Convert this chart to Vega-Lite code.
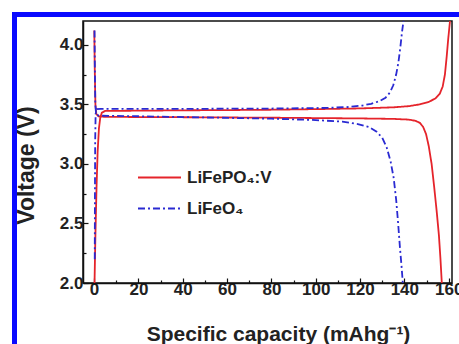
{
  "$schema": "https://vega.github.io/schema/vega-lite/v6.json",
  "width": 369,
  "height": 262,
  "autosize": {"type": "none"},
  "padding": {"left": 83, "top": 21, "right": 7, "bottom": 61},
  "background": "white",
  "config": {
    "view": {"stroke": "#111", "strokeWidth": 1.5},
    "font": "Liberation Sans",
    "axis": {
      "grid": false,
      "labelFont": "Liberation Sans",
      "labelFontWeight": "bold",
      "labelFontSize": 17,
      "labelColor": "#222",
      "titleFont": "Liberation Sans",
      "titleFontWeight": "bold",
      "titleFontSize": 21,
      "titleColor": "#222",
      "domainColor": "#111",
      "tickColor": "#111",
      "domainWidth": 1.5,
      "tickWidth": 1.2
    }
  },
  "data": {
    "values": [
      {"s": "LiFePO₄:V", "b": "c", "x": 0.2, "v": 2.0},
      {"s": "LiFePO₄:V", "b": "c", "x": 0.6, "v": 2.4},
      {"s": "LiFePO₄:V", "b": "c", "x": 1.1, "v": 2.8},
      {"s": "LiFePO₄:V", "b": "c", "x": 1.6, "v": 3.1},
      {"s": "LiFePO₄:V", "b": "c", "x": 2.2, "v": 3.3},
      {"s": "LiFePO₄:V", "b": "c", "x": 2.8, "v": 3.39},
      {"s": "LiFePO₄:V", "b": "c", "x": 3.5, "v": 3.43},
      {"s": "LiFePO₄:V", "b": "c", "x": 5, "v": 3.445},
      {"s": "LiFePO₄:V", "b": "c", "x": 20, "v": 3.447},
      {"s": "LiFePO₄:V", "b": "c", "x": 40, "v": 3.45},
      {"s": "LiFePO₄:V", "b": "c", "x": 60, "v": 3.452},
      {"s": "LiFePO₄:V", "b": "c", "x": 80, "v": 3.455},
      {"s": "LiFePO₄:V", "b": "c", "x": 100, "v": 3.46},
      {"s": "LiFePO₄:V", "b": "c", "x": 120, "v": 3.466},
      {"s": "LiFePO₄:V", "b": "c", "x": 135, "v": 3.475},
      {"s": "LiFePO₄:V", "b": "c", "x": 142, "v": 3.485},
      {"s": "LiFePO₄:V", "b": "c", "x": 147, "v": 3.5},
      {"s": "LiFePO₄:V", "b": "c", "x": 151, "v": 3.52},
      {"s": "LiFePO₄:V", "b": "c", "x": 154, "v": 3.55},
      {"s": "LiFePO₄:V", "b": "c", "x": 156, "v": 3.59},
      {"s": "LiFePO₄:V", "b": "c", "x": 157.3, "v": 3.65},
      {"s": "LiFePO₄:V", "b": "c", "x": 158.3, "v": 3.75},
      {"s": "LiFePO₄:V", "b": "c", "x": 159.1, "v": 3.9},
      {"s": "LiFePO₄:V", "b": "c", "x": 159.8, "v": 4.05},
      {"s": "LiFePO₄:V", "b": "c", "x": 160.6, "v": 4.2},
      {"s": "LiFePO₄:V", "b": "d", "x": 0.1, "v": 4.12},
      {"s": "LiFePO₄:V", "b": "d", "x": 0.3, "v": 3.8},
      {"s": "LiFePO₄:V", "b": "d", "x": 0.6, "v": 3.5},
      {"s": "LiFePO₄:V", "b": "d", "x": 1.0, "v": 3.42},
      {"s": "LiFePO₄:V", "b": "d", "x": 2, "v": 3.4},
      {"s": "LiFePO₄:V", "b": "d", "x": 5, "v": 3.395},
      {"s": "LiFePO₄:V", "b": "d", "x": 40, "v": 3.392},
      {"s": "LiFePO₄:V", "b": "d", "x": 80, "v": 3.388},
      {"s": "LiFePO₄:V", "b": "d", "x": 120, "v": 3.382},
      {"s": "LiFePO₄:V", "b": "d", "x": 135, "v": 3.378},
      {"s": "LiFePO₄:V", "b": "d", "x": 142, "v": 3.372},
      {"s": "LiFePO₄:V", "b": "d", "x": 145, "v": 3.362},
      {"s": "LiFePO₄:V", "b": "d", "x": 147, "v": 3.345},
      {"s": "LiFePO₄:V", "b": "d", "x": 148.5, "v": 3.31},
      {"s": "LiFePO₄:V", "b": "d", "x": 149.8, "v": 3.25},
      {"s": "LiFePO₄:V", "b": "d", "x": 151, "v": 3.15},
      {"s": "LiFePO₄:V", "b": "d", "x": 152.3, "v": 3.0},
      {"s": "LiFePO₄:V", "b": "d", "x": 153.5, "v": 2.8},
      {"s": "LiFePO₄:V", "b": "d", "x": 154.6, "v": 2.6},
      {"s": "LiFePO₄:V", "b": "d", "x": 155.6, "v": 2.4},
      {"s": "LiFePO₄:V", "b": "d", "x": 156.3, "v": 2.2},
      {"s": "LiFePO₄:V", "b": "d", "x": 156.9, "v": 2.0},
      {"s": "LiFeO₄", "b": "c", "x": 0.3, "v": 2.2},
      {"s": "LiFeO₄", "b": "c", "x": 0.4, "v": 2.8},
      {"s": "LiFeO₄", "b": "c", "x": 0.5, "v": 3.2},
      {"s": "LiFeO₄", "b": "c", "x": 0.7, "v": 3.42},
      {"s": "LiFeO₄", "b": "c", "x": 1.2, "v": 3.46},
      {"s": "LiFeO₄", "b": "c", "x": 3, "v": 3.462},
      {"s": "LiFeO₄", "b": "c", "x": 40, "v": 3.462},
      {"s": "LiFeO₄", "b": "c", "x": 80, "v": 3.465},
      {"s": "LiFeO₄", "b": "c", "x": 105, "v": 3.47},
      {"s": "LiFeO₄", "b": "c", "x": 115, "v": 3.478},
      {"s": "LiFeO₄", "b": "c", "x": 121, "v": 3.49},
      {"s": "LiFeO₄", "b": "c", "x": 125, "v": 3.505},
      {"s": "LiFeO₄", "b": "c", "x": 128.5, "v": 3.525},
      {"s": "LiFeO₄", "b": "c", "x": 131.5, "v": 3.555},
      {"s": "LiFeO₄", "b": "c", "x": 133.5, "v": 3.6},
      {"s": "LiFeO₄", "b": "c", "x": 135, "v": 3.66},
      {"s": "LiFeO₄", "b": "c", "x": 136.3, "v": 3.75},
      {"s": "LiFeO₄", "b": "c", "x": 137.3, "v": 3.85},
      {"s": "LiFeO₄", "b": "c", "x": 138.2, "v": 3.98},
      {"s": "LiFeO₄", "b": "c", "x": 138.9, "v": 4.1},
      {"s": "LiFeO₄", "b": "c", "x": 139.6, "v": 4.2},
      {"s": "LiFeO₄", "b": "d", "x": 0.2, "v": 4.12},
      {"s": "LiFeO₄", "b": "d", "x": 0.35, "v": 3.8},
      {"s": "LiFeO₄", "b": "d", "x": 0.55, "v": 3.5},
      {"s": "LiFeO₄", "b": "d", "x": 0.9, "v": 3.42},
      {"s": "LiFeO₄", "b": "d", "x": 2, "v": 3.405},
      {"s": "LiFeO₄", "b": "d", "x": 20, "v": 3.4},
      {"s": "LiFeO₄", "b": "d", "x": 50, "v": 3.39},
      {"s": "LiFeO₄", "b": "d", "x": 80, "v": 3.38},
      {"s": "LiFeO₄", "b": "d", "x": 100, "v": 3.368},
      {"s": "LiFeO₄", "b": "d", "x": 112, "v": 3.355},
      {"s": "LiFeO₄", "b": "d", "x": 119, "v": 3.335},
      {"s": "LiFeO₄", "b": "d", "x": 124, "v": 3.31},
      {"s": "LiFeO₄", "b": "d", "x": 127.5, "v": 3.27},
      {"s": "LiFeO₄", "b": "d", "x": 130, "v": 3.22},
      {"s": "LiFeO₄", "b": "d", "x": 132, "v": 3.14},
      {"s": "LiFeO₄", "b": "d", "x": 133.8, "v": 3.02},
      {"s": "LiFeO₄", "b": "d", "x": 135.2, "v": 2.88},
      {"s": "LiFeO₄", "b": "d", "x": 136.3, "v": 2.7},
      {"s": "LiFeO₄", "b": "d", "x": 137.2, "v": 2.5},
      {"s": "LiFeO₄", "b": "d", "x": 138, "v": 2.3},
      {"s": "LiFeO₄", "b": "d", "x": 138.7, "v": 2.15},
      {"s": "LiFeO₄", "b": "d", "x": 139.3, "v": 2.0}
    ]
  },
  "layer": [
    {
      "mark": {"type": "line", "clip": true, "strokeWidth": 1.8},
      "encoding": {
        "x": {
          "field": "x", "type": "quantitative",
          "scale": {"domain": [-5, 161.5], "nice": false, "zero": false},
          "axis": {
            "values": [0, 20, 40, 60, 80, 100, 120, 140, 160],
            "format": "d", "tickSize": -5, "labelPadding": 3,
            "title": "Specific capacity (mAhg⁻¹)",
            "titleX": 195, "titleY": 57, "titleBaseline": "alphabetic", "titleAlign": "center"
          }
        },
        "y": {
          "field": "v", "type": "quantitative",
          "scale": {"domain": [2, 4.2], "nice": false, "zero": false},
          "axis": {
            "values": [2.0, 2.5, 3.0, 3.5, 4.0],
            "format": ".1f", "tickSize": -5, "labelPadding": 5,
            "title": "Voltage (V)", "titleFontSize": 23,
            "titleX": -57, "titleY": 144, "titleAngle": -90, "titleAlign": "center", "titleBaseline": "middle"
          }
        },
        "color": {
          "field": "s", "type": "nominal",
          "scale": {"domain": ["LiFePO₄:V", "LiFeO₄"], "range": ["#e5242b", "#2a2ad2"]},
          "legend": {
            "title": null, "orient": "none", "legendX": 54, "legendY": 134,
            "symbolType": "stroke", "symbolSize": 1849, "symbolStrokeWidth": 2,
            "labelFont": "Liberation Sans", "labelFontWeight": "bold", "labelFontSize": 17,
            "labelColor": "#222", "rowPadding": -6, "labelOffset": 5
          }
        },
        "strokeDash": {
          "field": "s", "type": "nominal",
          "scale": {"domain": ["LiFePO₄:V", "LiFeO₄"], "range": [[1, 0], [7, 3, 2, 3]]}
        },
        "detail": {"field": "b"}
      }
    },
    {
      "mark": {"type": "line", "opacity": 0},
      "encoding": {
        "x": {
          "field": "x", "type": "quantitative",
          "axis": {"values": [10, 30, 50, 70, 90, 110, 130, 150], "orient": "bottom", "labels": false, "domain": false, "tickSize": -3, "title": null}
        },
        "y": {
          "field": "v", "type": "quantitative",
          "axis": {"values": [2.25, 2.75, 3.25, 3.75], "orient": "left", "labels": false, "domain": false, "tickSize": -3, "title": null}
        },
        "detail": {"field": "b"}
      }
    },
    {
      "mark": {"type": "rule", "color": "#0a0aff", "strokeWidth": 4.5, "clip": false, "strokeCap": "square"},
      "encoding": {
        "x": {"datum": -36, "type": "quantitative", "axis": null},
        "x2": {"datum": 250},
        "y": {"datum": 4.253, "type": "quantitative", "axis": null}
      }
    },
    {
      "mark": {"type": "rule", "color": "#0a0aff", "strokeWidth": 4.5, "clip": false, "strokeCap": "square"},
      "encoding": {
        "x": {"datum": -36, "type": "quantitative", "axis": null},
        "y": {"datum": 4.253, "type": "quantitative", "axis": null},
        "y2": {"datum": 1.0}
      }
    }
  ],
  "resolve": {"axis": {"x": "independent", "y": "independent"}}
}
